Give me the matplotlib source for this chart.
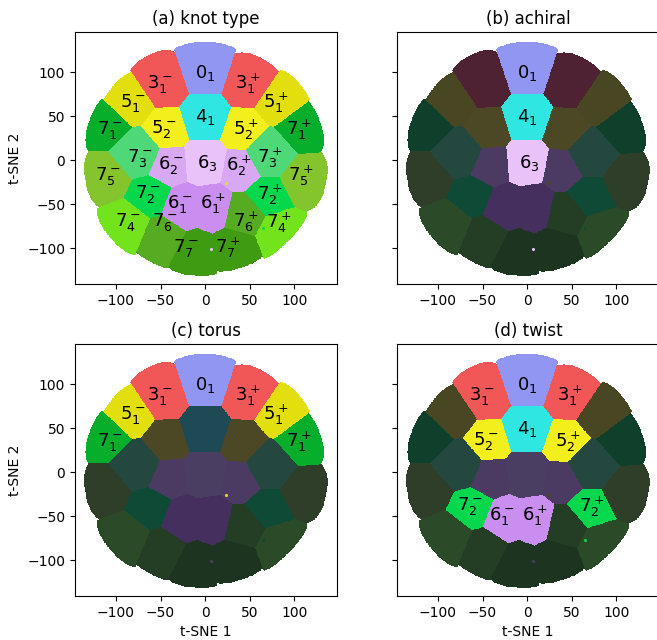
import numpy as np
import matplotlib
matplotlib.use("Agg")
import matplotlib.pyplot as plt
from matplotlib.colors import to_rgba

# ---------------- data ----------------
knots = ['0_1', '3_1^-', '3_1^+', '5_1^-', '5_1^+', '4_1', '5_2^-', '5_2^+',
         '7_1^-', '7_1^+', '7_3^-', '7_3^+', '6_2^-', '6_3', '6_2^+',
         '7_5^-', '7_5^+', '7_2^-', '7_2^+', '6_1^-', '6_1^+',
         '7_4^-', '7_6^-', '7_6^+', '7_4^+', '7_7^-', '7_7^+']
# t-SNE cluster centres
center_x = [0, -48, 49, -83, 82, 0, -46, 45,
            -107, 104, -76, 72, -43, 0, 42,
            -108, 108, -62, 70, -25, 8,
            -87, -47, 44, 83, -11, 33]
center_y = [102, 86, 86, 63, 64, 48, 34, 33,
            38, 35, 8, 7, -6, -2, -10,
            -19, -21, -40, -40, -54, -54,
            -72, -88, -62, -82, -106, -101]
# outer reach of the rim clusters (distance from origin; 0 = inner cluster)
cluster_reach = [134, 135, 132, 133, 137, 0, 0, 0,
                 137, 136, 0, 0, 0, 0, 0,
                 136, 138, 0, 0, 0, 0,
                 138, 131, 0, 131, 132, 129]
# tangential half-width of the rim clusters
cluster_halfwidth = [46, 38, 38, 40, 40, 0, 0, 0,
                     38, 38, 0, 0, 0, 0, 0,
                     38, 38, 0, 0, 0, 0,
                     40, 40, 0, 40, 38, 38]
# relative cluster weight (power diagram)
cluster_w = [0, 0, 0, 0, 0, 0, 0, 0,
             0, 0, 250, 250, 0, 0, 0,
             0, 0, 0, 0, 0, 0,
             0, 0, 0, 0, 0, 0]
# label anchor positions
label_x = [0, -51, 48, -81, 79, 0, -47, 45,
           -107, 105, -73, 73, -39, 2, 38,
           -109, 107, -64, 73, -28, 8,
           -87, -45, 45, 82, -22, 25]
label_y = [99, 87, 87, 65, 65, 49, 35, 34,
           34, 34, 3, 3, -6, -3, -6,
           -18, -18, -39, -39, -50, -50,
           -70, -70, -70, -71, -100, -100]

family_color = {
    '0_1': '#9196f2', '3_1': '#f25757', '4_1': '#2fe6e3', '5_1': '#e3df0e',
    '5_2': '#f2ef1c', '6_1': '#c98ef0', '6_2': '#d8a9f2', '6_3': '#e9c2fa',
    '7_1': '#06ae2b', '7_2': '#06d84e', '7_3': '#4fd877', '7_4': '#73e41c',
    '7_5': '#84c52d', '7_6': '#55ac22', '7_7': '#3f9c12'}
family_dark = {
    '0_1': '#3a3c60', '3_1': '#4f2233', '4_1': '#1d4a55', '5_1': '#494624',
    '5_2': '#4c4825', '6_1': '#452f5e', '6_2': '#4b3a62', '6_3': '#4a3f63',
    '7_1': '#0f402b', '7_2': '#0e4a36', '7_3': '#24483f', '7_4': '#2b4a27',
    '7_5': '#2f3e28', '7_6': '#233e24', '7_7': '#1d3420'}

# stray points (x, y, family)
stray_x = [24, 65, 7]
stray_y = [-26, -77, -101]
stray_family = ['5_1', '7_2', '6_3']

panel_titles = ['(a) knot type', '(b) achiral', '(c) torus', '(d) twist']
panel_highlight = [
    list(family_color.keys()),
    ['0_1', '4_1', '6_3'],
    ['0_1', '3_1', '5_1', '7_1'],
    ['0_1', '3_1', '4_1', '5_2', '6_1', '7_2'],
]
ticks = [-100, -50, 0, 50, 100]


def fam(k):
    return k.split('^')[0]


# ---------------- cluster regions ----------------
step = 0.5
gx = np.arange(-142, 142 + step, step)
gy = np.arange(-142, 142 + step, step)
XX, YY = np.meshgrid(gx, gy)
cxa = np.array(center_x, float)
cya = np.array(center_y, float)
D2 = (XX[None] - cxa[:, None, None]) ** 2 + (YY[None] - cya[:, None, None]) ** 2
score = D2 - np.array(cluster_w, float)[:, None, None]
owner = np.argmin(score, axis=0)

reach = np.array(cluster_reach, float)
half = np.array(cluster_halfwidth, float)
cn = np.hypot(cxa, cya)
ex, ey = cxa / cn, cya / cn
Ru = np.where(reach > 0, reach - cn, 1.0)
dx = XX - cxa[owner]
dy = YY - cya[owner]
u = dx * ex[owner] + dy * ey[owner]
v = -dx * ey[owner] + dy * ex[owner]
shape = (np.clip(u, 0, None) / Ru[owner]) ** 2.5 + \
        (np.abs(v) / np.where(half > 0, half, 1.0)[owner]) ** 2.5
inside = (reach[owner] <= 0) | (shape <= 1)

fig = plt.figure(figsize=(6.57, 6.40), dpi=100)
W, H = 657.0, 640.0
boxes = [(75, 32), (397, 32), (75, 344), (397, 344)]
aw, ah = 262, 252

for p, (title, hl) in enumerate(zip(panel_titles, panel_highlight)):
    left, top = boxes[p]
    ax = fig.add_axes([left / W, 1 - (top + ah) / H, aw / W, ah / H])
    cols = np.array([to_rgba(family_color[fam(k)] if fam(k) in hl
                             else family_dark[fam(k)]) for k in knots])
    img = cols[owner]
    img[~inside] = (1, 1, 1, 0)
    ax.imshow(img, origin='lower', extent=(gx[0] - step / 2, gx[-1] + step / 2,
                                            gy[0] - step / 2, gy[-1] + step / 2),
              interpolation='nearest', aspect='auto', zorder=1)
    for sx, sy, sf in zip(stray_x, stray_y, stray_family):
        c = family_color[sf] if sf in hl else family_dark[sf]
        ax.scatter([sx], [sy], s=5, color=c, zorder=2, linewidths=0)
    for k, lx, ly in zip(knots, label_x, label_y):
        if fam(k) in hl:
            ax.text(lx, ly, f"${k}$", ha='center', va='center', fontsize=13,
                    zorder=3)
    ax.set_xlim(-146, 148)
    ax.set_ylim(-141, 146)
    ax.set_xticks(ticks)
    ax.set_yticks(ticks)
    ax.tick_params(labelsize=10)
    if p % 2 == 1:
        ax.set_yticklabels([])
    else:
        ax.set_ylabel('t-SNE 2', fontsize=10)
    if p >= 2:
        ax.set_xlabel('t-SNE 1', fontsize=10)
    ax.set_title(title, fontsize=12)

fig.savefig('out.png', dpi=100)
